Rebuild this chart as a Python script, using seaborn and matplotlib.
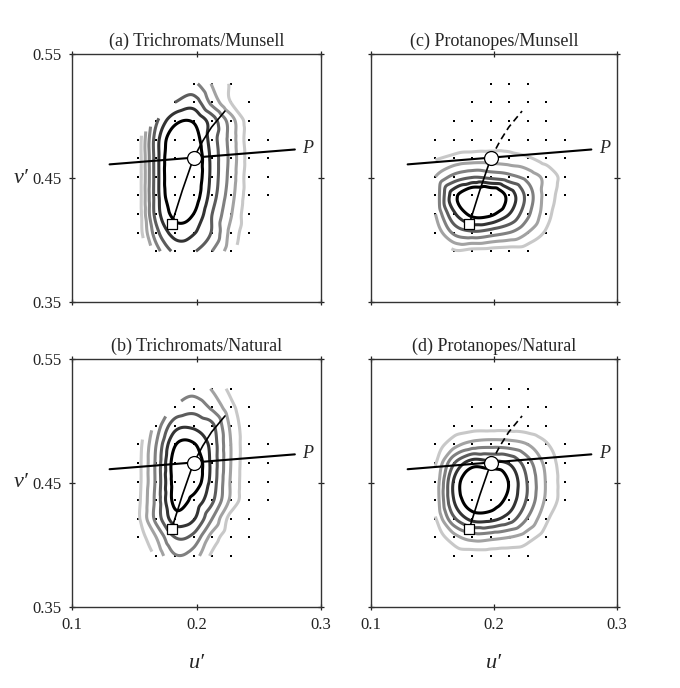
import numpy as np
import matplotlib
matplotlib.use("Agg")
import matplotlib.pyplot as plt
import matplotlib.tri as mtri
import pandas as pd
import seaborn as sns

nan = np.nan

# chromaticities of the sample grid (dots)
u_cols = [0.1525, 0.1675, 0.1825, 0.1975, 0.2125, 0.2275, 0.2425, 0.2575]
v_rows = [0.526, 0.511, 0.496, 0.481, 0.466, 0.451, 0.436, 0.421, 0.406, 0.391]

# estimated response level at each dot (nan = no sample), rows top -> bottom
trich_munsell = [
    [nan, nan, nan, 3.2, 1.9, 0.9, nan, nan],
    [nan, nan, 4.0, 4.5, 2.7, 1.0, 0.3, nan],
    [nan, 3.8, 5.7, 5.9, 4.5, 2.5, 0.5, nan],
    [0.1, 4.5, 6.8, 6.6, 4.5, 2.6, 0.5, 0.2],
    [0.1, 4.5, 7.2, 7.0, 4.7, 2.7, 0.6, 0.2],
    [0.1, 4.5, 7.2, 6.9, 4.7, 2.6, 0.5, 0.2],
    [0.1, 4.5, 7.0, 6.6, 4.5, 2.4, 0.5, 0.2],
    [0.1, 4.4, 6.3, 6.0, 4.0, 2.1, 0.3, nan],
    [0.1, 3.6, 5.4, 5.1, 3.9, 1.7, 0.3, nan],
    [nan, 2.5, 4.2, 4.1, 3.0, 1.4, nan, nan],
]
trich_natural = [
    [nan, nan, nan, 2.6, 1.9, 0.7, nan, nan],
    [nan, nan, 3.1, 3.6, 2.8, 1.3, 0.3, nan],
    [nan, 2.4, 4.6, 4.8, 4.2, 1.8, 0.3, nan],
    [0.4, 3.0, 5.9, 6.1, 4.6, 2.0, 0.3, 0.1],
    [0.5, 3.2, 6.5, 6.9, 4.7, 2.0, 0.3, 0.1],
    [0.5, 3.2, 6.4, 6.7, 4.6, 1.9, 0.3, 0.1],
    [0.6, 3.3, 6.3, 5.7, 4.2, 1.8, 0.3, 0.1],
    [0.7, 3.3, 5.5, 5.1, 3.0, 0.6, 0.2, nan],
    [0.3, 2.0, 4.0, 3.7, 1.6, 0.3, 0.1, nan],
    [nan, 1.2, 2.9, 2.5, 0.8, 0.1, nan, nan],
]
prot_munsell = [
    [nan, nan, nan, 0.0, 0.0, 0.0, nan, nan],
    [nan, nan, 0.0, 0.0, 0.0, 0.0, 0.0, nan],
    [nan, 0.1, 0.1, 0.1, 0.1, 0.1, 0.1, nan],
    [0.1, 0.2, 0.4, 0.5, 0.5, 0.3, 0.2, 0.1],
    [0.9, 1.3, 1.5, 1.5, 1.4, 1.1, 0.6, 0.2],
    [2.0, 3.3, 3.9, 3.7, 3.3, 2.6, 1.7, 0.6],
    [2.2, 5.6, 7.2, 7.2, 5.6, 3.6, 1.6, 0.4],
    [2.0, 4.8, 6.3, 6.2, 5.0, 3.2, 1.4, nan],
    [1.2, 3.2, 3.8, 3.5, 3.0, 2.0, 0.8, nan],
    [nan, 0.8, 0.6, 0.5, 0.4, 0.3, nan, nan],
]
prot_natural = [
    [nan, nan, nan, 0.0, 0.0, 0.0, nan, nan],
    [nan, nan, 0.1, 0.2, 0.2, 0.1, 0.0, nan],
    [nan, 0.4, 0.6, 0.6, 0.6, 0.5, 0.2, nan],
    [0.4, 1.6, 2.4, 2.6, 2.5, 2.0, 1.1, 0.2],
    [0.9, 3.9, 5.5, 5.3, 4.9, 3.4, 1.7, 0.4],
    [1.2, 5.1, 7.0, 7.2, 5.9, 3.9, 1.9, 0.5],
    [1.2, 5.0, 6.7, 6.6, 5.6, 3.8, 1.8, 0.5],
    [0.9, 3.8, 5.3, 5.3, 4.5, 2.9, 1.2, nan],
    [0.3, 1.6, 2.4, 2.3, 2.0, 1.4, 0.4, nan],
    [nan, 0.2, 0.3, 0.3, 0.3, 0.2, nan, nan],
]

levels = [1, 2, 3, 4, 5, 6]
level_colors = ["#c8c8c8", "#a2a2a2", "#808080", "#5c5c5c", "#333333", "#000000"]

# white point, daylight locus (square = start), protan confusion line
white_u, white_v = 0.1975, 0.466
locus_u = [0.180, 0.1885, 0.1975, 0.205, 0.212, 0.2228]
locus_v = [0.413, 0.440, 0.466, 0.480, 0.491, 0.504]
p_u = [0.130, 0.279]
p_v = [0.461, 0.473]

panels = [
    ("(a) Trichromats/Munsell", trich_munsell, False, [0.1063, 0.561, 0.3657, 0.3605]),
    ("(c) Protanopes/Munsell", prot_munsell, True, [0.5451, 0.561, 0.3626, 0.3605]),
    ("(b) Trichromats/Natural", trich_natural, False, [0.1063, 0.1182, 0.3657, 0.360]),
    ("(d) Protanopes/Natural", prot_natural, True, [0.5451, 0.1182, 0.3626, 0.360]),
]

sns.set_theme(style="ticks")
plt.rcParams["font.family"] = ["Liberation Serif", "DejaVu Serif"]
plt.rcParams["axes.edgecolor"] = "#333333"
plt.rcParams["axes.linewidth"] = 1.0

fig = plt.figure(figsize=(6.8, 6.88), dpi=100)


def draw_panel(ax, title, z_rows, dashed, left, bottom):
    z = np.array(z_rows, dtype=float)
    uu, vv = np.meshgrid(u_cols, v_rows)
    ok = ~np.isnan(z)
    pts = pd.DataFrame({"u": uu[ok], "v": vv[ok], "z": z[ok]})

    tri = mtri.Triangulation(pts["u"], pts["v"])
    interp = mtri.CubicTriInterpolator(tri, pts["z"].values, kind="geom")
    tri_f, z_f = mtri.UniformTriRefiner(tri).refine_field(
        pts["z"].values, triinterpolator=interp, subdiv=4
    )

    sns.scatterplot(data=pts, x="u", y="v", color="black", marker="s", s=4,
                    linewidth=0, ax=ax, zorder=1, legend=False)
    ax.tricontour(tri_f, z_f, levels=levels, colors=level_colors,
                  linewidths=2.2, zorder=2)

    # confusion line toward P
    sns.lineplot(x=p_u, y=p_v, sort=False, estimator=None, color="black",
                 linewidth=1.5, ax=ax, zorder=3)
    ax.text(p_u[1] + 0.006, p_v[1] + 0.0008, "P", style="italic", fontsize=13,
            ha="left", va="center")

    # locus: lower part solid, upper part solid or dashed
    sns.lineplot(x=locus_u[:3], y=locus_v[:3], sort=False, estimator=None,
                 color="black", linewidth=1.2, ax=ax, zorder=3)
    sns.lineplot(x=locus_u[2:], y=locus_v[2:], sort=False, estimator=None,
                 color="black", linewidth=1.2, ax=ax, zorder=3,
                 linestyle=(0, (4, 2.5)) if dashed else "-")

    ax.scatter([locus_u[0]], [locus_v[0]], marker="s", s=55, facecolor="white",
               edgecolor="black", linewidth=0.9, zorder=5)
    ax.scatter([white_u], [white_v], marker="o", s=100, facecolor="white",
               edgecolor="black", linewidth=0.9, zorder=5)

    ax.set_xlim(0.1, 0.3)
    ax.set_ylim(0.35, 0.55)
    ax.set_xticks([0.1, 0.2, 0.3])
    ax.set_yticks([0.35, 0.45, 0.55])
    ax.set_xticklabels(["0.1", "0.2", "0.3"] if bottom else [])
    ax.set_yticklabels(["0.35", "0.45", "0.55"] if left else [])
    ax.tick_params(direction="inout", length=5, width=0.9, top=True, right=True,
                   labelsize=12, colors="#222222", pad=5)
    ax.set_xlabel("u\u2032" if bottom else "", fontsize=16, style="italic")
    ax.set_ylabel("v\u2032" if left else "", fontsize=16, style="italic", rotation=0)
    ax.xaxis.set_label_coords(0.5, -0.19)
    ax.yaxis.set_label_coords(-0.205, 0.5)
    ax.yaxis.label.set_va("center")
    ax.set_title(title, fontsize=13, pad=6)


for i, (title, z_rows, dashed, pos) in enumerate(panels):
    ax = fig.add_axes(pos)
    draw_panel(ax, title, z_rows, dashed, left=(i % 2 == 0), bottom=(i >= 2))

fig.savefig("out.png", dpi=100, facecolor="white")
